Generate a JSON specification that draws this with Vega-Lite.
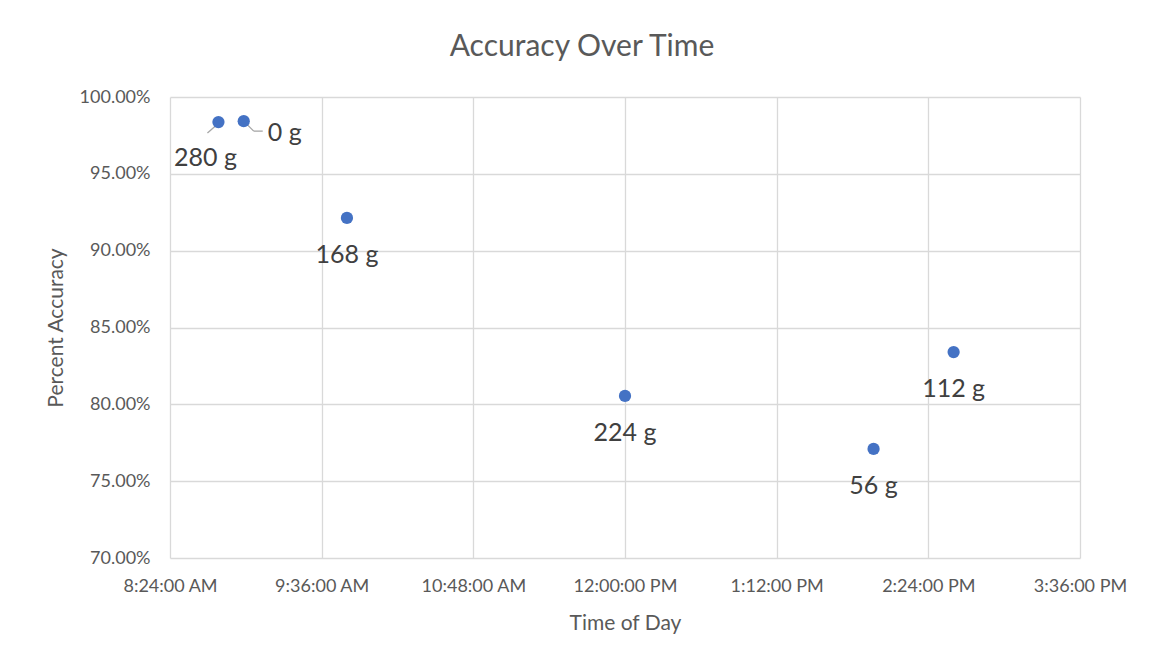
{
  "$schema": "https://vega.github.io/schema/vega-lite/v6.json",
  "width": 910,
  "height": 461,
  "autosize": {"type": "none"},
  "padding": {"left": 170, "top": 97, "right": 71, "bottom": 105},
  "background": "white",
  "config": {
    "font": "Lato",
    "view": {"stroke": null},
    "axis": {
      "labelFont": "Lato", "titleFont": "Lato",
      "labelColor": "#595959", "titleColor": "#595959",
      "gridColor": "#D9D9D9", "gridWidth": 1.3,
      "domain": false, "ticks": false,
      "labelFontSize": 18, "titleFontSize": 21, "titleFontWeight": "normal"
    }
  },
  "title": {
    "text": "Accuracy Over Time",
    "font": "Lato", "fontSize": 30, "fontWeight": "normal", "color": "#595959",
    "anchor": "middle", "dx": -43, "offset": 26
  },
  "data": {
    "values": [
      {"time": "2024-01-01T08:47:00Z", "accuracy": 0.9837, "label": "280 g"},
      {"time": "2024-01-01T08:59:00Z", "accuracy": 0.9843, "label": "0 g"},
      {"time": "2024-01-01T09:48:00Z", "accuracy": 0.9213, "label": "168 g"},
      {"time": "2024-01-01T12:00:00Z", "accuracy": 0.8055, "label": "224 g"},
      {"time": "2024-01-01T13:58:00Z", "accuracy": 0.7710, "label": "56 g"},
      {"time": "2024-01-01T14:36:00Z", "accuracy": 0.8340, "label": "112 g"}
    ]
  },
  "encoding": {
    "x": {
      "field": "time", "type": "temporal", "title": "Time of Day",
      "scale": {"type": "utc", "domain": [
        {"year": 2024, "month": 1, "date": 1, "hours": 8, "minutes": 24, "utc": true},
        {"year": 2024, "month": 1, "date": 1, "hours": 15, "minutes": 36, "utc": true}
      ]},
      "axis": {
        "values": [
          {"year": 2024, "month": 1, "date": 1, "hours": 8, "minutes": 24, "utc": true},
          {"year": 2024, "month": 1, "date": 1, "hours": 9, "minutes": 36, "utc": true},
          {"year": 2024, "month": 1, "date": 1, "hours": 10, "minutes": 48, "utc": true},
          {"year": 2024, "month": 1, "date": 1, "hours": 12, "minutes": 0, "utc": true},
          {"year": 2024, "month": 1, "date": 1, "hours": 13, "minutes": 12, "utc": true},
          {"year": 2024, "month": 1, "date": 1, "hours": 14, "minutes": 24, "utc": true},
          {"year": 2024, "month": 1, "date": 1, "hours": 15, "minutes": 36, "utc": true}
        ],
        "labelExpr": "utcFormat(datum.value, '%-I:%M:%S %p')",
        "labelPadding": 19, "titlePadding": 17, "labelFlush": false, "labelOverlap": false
      }
    },
    "y": {
      "field": "accuracy", "type": "quantitative", "title": "Percent Accuracy",
      "scale": {"domain": [0.70, 1.0], "nice": false, "zero": false},
      "axis": {"values": [0.70, 0.75, 0.80, 0.85, 0.90, 0.95, 1.0], "format": ".2%", "labelPadding": 20, "titlePadding": 13}
    }
  },
  "layer": [
    {
      "transform": [{"filter": "datum.label == '280 g'"}],
      "mark": {"type": "rule", "color": "#A6A6A6", "strokeWidth": 1.3, "xOffset": -3, "yOffset": 4, "x2Offset": -11, "y2Offset": 11},
      "encoding": {"x2": {"field": "time"}, "y2": {"field": "accuracy"}}
    },
    {
      "transform": [{"filter": "datum.label == '0 g'"}],
      "mark": {"type": "rule", "color": "#A6A6A6", "strokeWidth": 1.3, "xOffset": 3, "yOffset": 3, "x2Offset": 10, "y2Offset": 10},
      "encoding": {"x2": {"field": "time"}, "y2": {"field": "accuracy"}}
    },
    {
      "transform": [{"filter": "datum.label == '0 g'"}],
      "mark": {"type": "rule", "color": "#A6A6A6", "strokeWidth": 1.3, "xOffset": 10, "yOffset": 10, "x2Offset": 19, "y2Offset": 10},
      "encoding": {"x2": {"field": "time"}, "y2": {"field": "accuracy"}}
    },
    {
      "mark": {"type": "circle", "size": 150, "color": "#4472C4", "opacity": 1},
      "encoding": {}
    },
    {
      "transform": [{"filter": "datum.label != '280 g' && datum.label != '0 g'"}],
      "mark": {"type": "text", "fontSize": 25, "color": "#404040", "font": "Lato", "baseline": "middle", "align": "center", "dy": 37},
      "encoding": {"text": {"field": "label"}}
    },
    {
      "transform": [{"filter": "datum.label == '280 g'"}],
      "mark": {"type": "text", "fontSize": 25, "color": "#404040", "font": "Lato", "baseline": "middle", "align": "center", "dx": -13, "dy": 36},
      "encoding": {"text": {"field": "label"}}
    },
    {
      "transform": [{"filter": "datum.label == '0 g'"}],
      "mark": {"type": "text", "fontSize": 25, "color": "#404040", "font": "Lato", "baseline": "middle", "align": "left", "dx": 24, "dy": 12},
      "encoding": {"text": {"field": "label"}}
    }
  ]
}
